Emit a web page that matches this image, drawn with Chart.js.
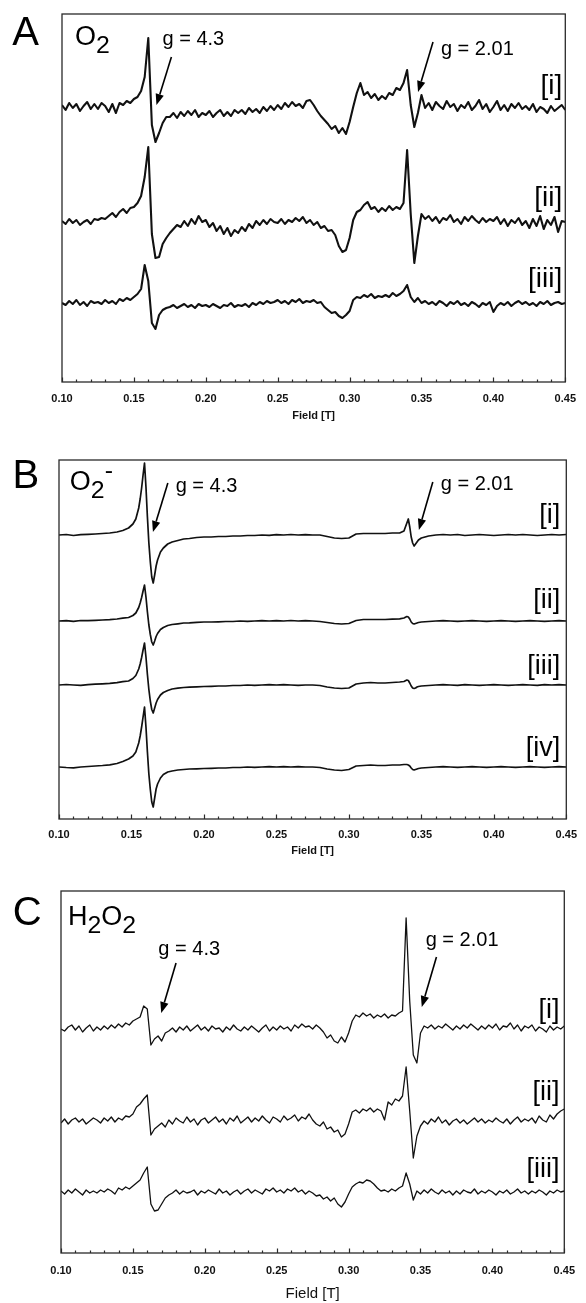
<!DOCTYPE html>
<html>
<head>
<meta charset="utf-8">
<script src="https://cdn.jsdelivr.net/npm/chart.js@4"></script>
<style>
  html, body { margin: 0; padding: 0; background: #fff; }
  body { width: 586px; height: 1303px; position: relative; overflow: hidden; }
  canvas { position: absolute; left: 0; }
</style>
</head>
<body>
<canvas id="panelA" width="586" height="430" style="top:0px"></canvas>
<canvas id="panelB" width="586" height="435" style="top:430px"></canvas>
<canvas id="panelC" width="586" height="438" style="top:865px"></canvas>
<script>
// field positions (T) for panels A and C
const fieldAC = [
  0.1000,0.1025,0.1050,0.1075,0.1100,0.1125,0.1150,0.1175,0.1200,0.1225,
  0.1250,0.1275,0.1300,0.1325,0.1350,0.1375,0.1400,0.1425,0.1450,0.1475,
  0.1500,0.1525,0.1550,0.1575,0.1600,0.1625,0.1650,0.1675,0.1700,0.1725,
  0.1750,0.1775,0.1800,0.1825,0.1850,0.1875,0.1900,0.1925,0.1950,0.1975,
  0.2000,0.2025,0.2050,0.2075,0.2100,0.2125,0.2150,0.2175,0.2200,0.2225,
  0.2250,0.2275,0.2300,0.2325,0.2350,0.2375,0.2400,0.2425,0.2450,0.2475,
  0.2500,0.2525,0.2550,0.2575,0.2600,0.2625,0.2650,0.2675,0.2700,0.2725,
  0.2750,0.2775,0.2800,0.2825,0.2850,0.2875,0.2900,0.2925,0.2950,0.2975,
  0.3000,0.3025,0.3050,0.3075,0.3100,0.3125,0.3150,0.3175,0.3200,0.3225,
  0.3250,0.3275,0.3300,0.3325,0.3350,0.3375,0.3400,0.3425,0.3450,0.3475,
  0.3500,0.3525,0.3550,0.3575,0.3600,0.3625,0.3650,0.3675,0.3700,0.3725,
  0.3750,0.3775,0.3800,0.3825,0.3850,0.3875,0.3900,0.3925,0.3950,0.3975,
  0.4000,0.4025,0.4050,0.4075,0.4100,0.4125,0.4150,0.4175,0.4200,0.4225,
  0.4250,0.4275,0.4300,0.4325,0.4350,0.4375,0.4400,0.4425,0.4450,0.4475,
  0.4500
];

// panel B is sampled more densely round the sharp lines
const fieldB = [
  0.100,0.105,0.110,0.115,0.120,0.125,0.130,0.135,0.140,0.144,
  0.148,0.151,0.153,0.155,0.156,0.157,0.158,0.159,0.160,0.161,
  0.162,0.163,0.164,0.165,0.166,0.167,0.168,0.170,0.172,0.175,
  0.178,0.182,0.186,0.190,0.195,0.200,0.205,0.210,0.215,0.220,
  0.225,0.230,0.235,0.240,0.245,0.250,0.255,0.260,0.265,0.270,
  0.275,0.280,0.285,0.290,0.295,0.300,0.305,0.310,0.315,0.320,
  0.325,0.330,0.335,0.338,0.340,0.341,0.342,0.343,0.344,0.345,
  0.346,0.347,0.348,0.350,0.355,0.360,0.365,0.370,0.375,0.380,
  0.385,0.390,0.395,0.400,0.405,0.410,0.415,0.420,0.425,0.430,
  0.435,0.440,0.445,0.450
];

const xTicks = [0.10, 0.15, 0.20, 0.25, 0.30, 0.35, 0.40, 0.45];

// A: O2 spectra (signal, arbitrary units, relative to each baseline)
const o2_i = [
   2,-3, 4,-1, 3,-4, 1, 5,-2, 3,
  -2, 4, 1,-5, 3,-6, 4, 2, 6, 4,
   8,10,16,30,69,-18,-35,-26,-16,-10,
 -10,-6,-11,-5,-9,-4,-8,-3,-10,-6,
  -8,-4,-10,-6,-3,-9,-5,-9,-3,-6,
  -3,-7,-1,-5,-2,-6, 0,-4, 1,-3,
   2,-2, 4, 0, 5, 1, 3,-1, 6, 7,
   2,-4,-9,-13,-17,-22,-19,-26,-21,-27,
 -15, 0,14,24,12,15, 9,13, 7,11,
   8,14,12,19,17,24,37, 2,-20,-6,
  12,-1, 4,-3, 5, 1,-2, 6, 0, 3,
  -4, 2,-1, 5,-3, 1, 7,-2, 3,-5,
   0, 6,-3, 2,-4, 3,-1, 4,-2, 1,
  -3, 3,-5, 0,-2,-6, 1,-4,-1, 2,
  -3
];
const o2_ii = [
   1,-2, 3,-1, 2,-3, 0, 2,-2, 3,
   2, 4, 3, 6, 9, 5,10,13, 9,14,
  15,19,26,45,75,-12,-36,-35,-22,-16,
 -11,-7,-3,-5, 1,-4, 3,-2, 6, 0,
   2,-5,-1,-9,-4,-12,-6,-14,-8,-11,
  -5,-9,-2,-6, 1,-3, 2,-2, 3, 0,
  -1, 3,-2, 2, 0, 4, 1, 5,-1, 2,
  -3, 0,-6,-4,-9,-8,-13,-24,-30,-28,
 -16, 2,10,12,17,20,13,15,10,14,
  11,16,12,15,13,19,72, 8,-41,-14,
   8, 3, 6, 1, 5,-1, 4, 2, 7, 0,
   3,-2, 5, 1, 6, 2,-1, 4, 0, 3,
   1, 5,-2, 3,-4, 2,-1, 4,-3, 1,
  -6, 3,-4, 6,-7, 2,-3, 5,-10, 1,
   0
];
const o2_iii = [
   0,-2, 2,-1, 3,-2, 1,-3, 2, 0,
   1,-1, 3, 0, 2,-1, 4, 2, 5, 3,
   6, 9,14,38,22,-20,-26,-12,-7,-5,
  -4,-2,-5,-3,-1,-4,-2,-5,-1,-3,
  -2,-4,-1,-3,-5,-2,-3, 0,-4,-2,
  -3,-1,-4, 0,-2, 1,-1, 2, 0, 1,
   3, 0, 2,-1, 3, 1, 4, 0, 2, 1,
   3, 0, 1,-4,-7,-10,-9,-13,-15,-12,
  -8, 3, 6, 5, 8, 6, 9, 5, 7, 6,
   8, 6,10, 7, 9,12,18, 6, 1, 5,
   0, 2,-1, 1,-2, 2, 0,-3, 1,-1,
   2,-2, 0,-3, 1,-1,-4, 0,-2, 1,
  -9,-3, 0,-2, 1,-3, 0, 2,-1, 1,
  -2, 0,-3, 1,-1, 2,-2, 0, 1,-1,
   0
];

// B: O2- spectra
const sup_i = [
   0, 0.5,-0.5, 0.3, 0.6, 1, 1.5, 2, 3, 4.5,
   7, 11, 16, 27, 36, 47, 60, 72, 48, 18,
  -8,-27,-42,-48,-40,-31,-25,-17,-13,-9,
  -7,-5.5,-4,-3.5,-2.5,-2,-2,-1.5,-1.5,-1,
  -1,-0.5,-0.5, 0,-0.3, 0.3, 0, 0.5, 0, 0.3,
   0, 0,-1.5,-3,-3.5,-3, 1, 1.5, 1.5, 1.5,
   1.5, 2, 2, 4, 12, 16, 8,-2,-8,-11,
  -9,-7,-5,-3,-1, 0, 0.5, 0, 0.5,-0.5,
   0, 0.5, 0,-0.5, 0, 0.5, 0, 0.5, 0,-0.5,
   0, 0.5, 0, 0.5
];
const sup_ii = [
   0, 0.4,-0.3, 0.5, 0.3, 0.7, 1, 1.3, 2, 2.8,
   3.5, 5.5, 8, 13.5, 18, 23.5, 30, 36, 24, 9,
  -4,-13.5,-21,-24,-20,-15.5,-12.5,-8.5,-6.5,-4.5,
  -3.5,-2.8,-2,-1.8,-1.3,-1,-1,-0.8,-0.5,-0.5,
   0,-0.3, 0, 0.3, 0, 0.3, 0, 0.5, 0, 0.3,
   0,-0.5,-1.5,-2.5,-3,-2.5, 0.5, 1.5, 1.5, 1.5,
   1.5, 1.8, 2.2, 3, 4.5, 4, 2,-1,-2.5,-3,
  -2.5,-2,-1.5,-1,-0.5, 0, 0.3, 0,-0.3, 0,
   0.4, 0,-0.3, 0, 0.3, 0,-0.4, 0, 0.3, 0,
  -0.3, 0, 0.3, 0
];
const sup_iii = [
   0, 0.5, 0,-0.4, 0.4, 0.8, 1.2, 1.6, 2.4, 3.3,
   4, 6.5, 9.5, 16, 21, 27.5, 35, 42, 28, 10.5,
  -4.5,-16,-24.5,-28,-23,-18,-14.5,-10,-7.5,-5.5,
  -4,-3.2,-2.5,-2.2,-1.8,-1.5,-1.3,-1,-1,-0.5,
  -0.5, 0,-0.3, 0, 0.3, 0, 0.3, 0,-0.3, 0,
   0,-0.5,-2,-3,-3.5,-3, 1, 2, 2.5, 2,
   2, 2.5, 3, 3.5, 5, 4.5, 2,-1,-3,-3.5,
  -3,-2,-1.5,-1,-0.5, 0, 0.3, 0,-0.3, 0.3,
   0,-0.3, 0, 0.4, 0,-0.3, 0, 0.3, 0,-0.3,
   0.3, 0, 0.3, 0
];
const sup_iv = [
   0,-0.5,-0.8, 0, 0.5, 1, 1.5, 2.2, 3.5, 5.5,
   8, 11, 15, 24, 31, 40, 50, 60, 40, 15,
  -7,-22.5,-35,-40,-31,-22,-17,-11,-7.5,-5,
  -4,-3,-2.5,-2,-1.8,-1.5,-1.3,-1,-1,-0.5,
  -0.5, 0,-0.3, 0, 0.3, 0, 0.3, 0, 0.3, 0,
   0,-0.5,-2,-3,-3.5,-2.5, 1, 1.5, 2, 1.5,
   1.5, 2, 2, 2.5, 2.5, 2, 1,-1,-2.5,-3,
  -2.5,-2,-1.5,-1,-0.5, 0, 0.3, 0,-0.3, 0,
   0.3, 0,-0.3, 0, 0.3, 0,-0.3, 0, 0.3, 0,
  -0.3, 0, 0.3, 0
];

// C: H2O2 spectra
const h2o2_i = [
   0,-2, 2, 4,-1, 3,-3, 1, 4,-2,
   2,-1, 3, 0, 4, 1, 5, 2, 6, 4,
   8,10,12,23,20,-16,-10,-7,-12,-4,
  -2, 1,-3, 2,-1, 3,-2, 1, 4,-1,
   2,-2, 3, 0, 1,-3, 2,-1, 4, 0,
  -2, 2,-1, 3, 0,-3, 1, 4,-2, 2,
  -1, 3, 0, 2,-2, 4, 1, 5, 2, 3,
   0, 4, 1,-3,-9,-6,-12,-14,-8,-13,
  -4, 8,14,12,16,13,15,11,14,12,
  15,11,14,13,16,18,111,28,-26,-34,
  -4, 3, 1, 4, 0, 3, 1, 5, 2,-1,
   3, 0, 4, 1, 5, 2,-1, 3, 0, 4,
   1, 5,-1, 3, 2, 6, 0, 4,-2, 3,
   1, 4,-2, 2, 0,-3, 3,-1, 2, 0,
   3
];
const h2o2_ii = [
  -2, 2,-3, 1, 3,-1, 2,-3, 0, 3,
   1,-2, 3, 0, 4,-1, 3, 1, 5, 4,
   7,14,17,22,26,-14,-8,-5,-2,-6,
   1,-3, 3, 0,-2, 4,-1, 2,-4, 1,
   3,-2, 1, 4,-1, 2,-3, 3, 0, 5,
  -2, 1, 4,-1, 3, 0, 5, 1,-2, 4,
   2,-1, 5, 1, 3, 6, 0, 4, 2, 7,
   1,-3,-5,-1,-8,-6,-11,-9,-16,-13,
  -3, 9,11, 8,12,10,13, 9,12,10,
   1,19,16,22,20,25,54,10,-37,-15,
  -5, 0,-3, 2,-1, 4,-2, 1,-4, 0,
   2,-2, 1,-3, 0, 3,-1, 2,-2, 1,
  -1, 3, 0,-2, 2,-3, 1, 4,-1, 2,
   0, 3,-2, 5, 1,-1, 6, 2, 7,10,
  12
];
const h2o2_iii = [
   1,-2, 2,-1, 3, 0,-3, 2,-1, 1,
  -1, 2, 0, 3, 1,-2, 4, 2, 5, 3,
   6, 9,12,19,25,-12,-19,-18,-12,-6,
  -3,-1, 2,-2, 1,-1, 0, 2,-3, 1,
  -1, 2, 0,-2, 3,-1, 1,-3, 0, 2,
  -2, 1, 3,-1, 2, 0,-2, 3, 1, 4,
   0, 2,-1, 3, 1, 4, 0, 2,-2, 1,
  -1,-4,-3,-7,-5,-9,-6,-12,-15,-10,
  -2, 5, 8,10, 9,12,11, 8, 4, 1,
   2, 0, 3, 1, 4, 6,19, 8,-8, 1,
  -2, 2,-1, 3, 0,-2, 2,-1, 1,-3,
   1,-2, 2, 0,-1, 3,-2, 1,-1, 2,
   0,-3, 1,-1, 2,-2, 0, 3,-1, 1,
  -2, 1,-1, 2, 0,-3, 1,-1, 2, 0,
   1
];

// vertical stacking of the traces in each panel
const offsetsA = [275, 160, 79];
const offsetsB = [284, 198, 134, 52];
const offsetsC = [224, 132, 61];
const traceLabels = ['[i]', '[ii]', '[iii]', '[iv]'];

const fontFamily = 'Arial, "Liberation Sans", Helvetica, sans-serif';

// box round the plot plus the inward minor / major ticks
const framePlugin = {
  id: 'frame',
  afterDatasetsDraw(chart) {
    const { ctx, chartArea: a, scales: { x } } = chart;
    ctx.save();
    ctx.strokeStyle = '#2a2a2a';
    ctx.lineWidth = 1.3;
    ctx.strokeRect(a.left, a.top, a.right - a.left, a.bottom - a.top);
    ctx.lineWidth = 1.2;
    ctx.beginPath();
    for (let k = 10; k <= 45; k++) {
      const px = Math.round(x.getPixelForValue(k / 100)) + 0.5;
      const len = k % 5 === 0 ? 4.5 : 2.5;
      ctx.moveTo(px, a.bottom);
      ctx.lineTo(px, a.bottom - len);
    }
    ctx.stroke();
    ctx.restore();
  }
};

// labels and arrows, placed in data coordinates
function notesPlugin(notes) {
  return {
    id: 'notes',
    afterDraw(chart) {
      const { ctx, scales: { x, y } } = chart;
      ctx.save();
      ctx.fillStyle = '#000';
      ctx.strokeStyle = '#000';
      ctx.textBaseline = 'alphabetic';
      notes.texts.forEach(t => {
        let px = x.getPixelForValue(t.at[0]);
        const py = y.getPixelForValue(t.at[1]);
        const parts = t.runs.map(([s, kind]) => {
          const size = kind ? t.size * 0.92 : t.size;
          ctx.font = `${size}px ${fontFamily}`;
          return { s, kind, size, w: ctx.measureText(s).width };
        });
        if (t.align === 'right') px -= parts.reduce((sum, p) => sum + p.w, 0);
        parts.forEach(p => {
          ctx.font = `${p.size}px ${fontFamily}`;
          const dy = p.kind === 'sub' ? t.size * 0.3 : p.kind === 'sup' ? -t.size * 0.44 : 0;
          ctx.fillText(p.s, px, py + dy);
          px += p.w;
        });
      });
      notes.arrows.forEach(([f0, v0, f1, v1]) => {
        const x0 = x.getPixelForValue(f0), y0 = y.getPixelForValue(v0);
        const x1 = x.getPixelForValue(f1), y1 = y.getPixelForValue(v1);
        const ang = Math.atan2(y1 - y0, x1 - x0);
        const head = 11, half = 4.2;
        const bx = x1 - head * Math.cos(ang), by = y1 - head * Math.sin(ang);
        ctx.lineWidth = 1.6;
        ctx.beginPath();
        ctx.moveTo(x0, y0);
        ctx.lineTo(bx, by);
        ctx.stroke();
        ctx.beginPath();
        ctx.moveTo(x1, y1);
        ctx.lineTo(bx + half * Math.sin(ang), by - half * Math.cos(ang));
        ctx.lineTo(bx - half * Math.sin(ang), by + half * Math.cos(ang));
        ctx.closePath();
        ctx.fill();
      });
      ctx.restore();
    }
  };
}

function buildPanel(id, field, series, offsets, yMax, pad, axisHeight, lineWidth, tickPad, titleFont, titlePad, notes) {
  new Chart(document.getElementById(id), {
    type: 'line',
    data: {
      datasets: series.map((values, k) => ({
        label: traceLabels[k],
        data: field.map((f, i) => ({ x: f, y: offsets[k] + values[i] })),
        borderColor: '#111',
        borderWidth: lineWidth,
        borderJoinStyle: 'round',
        pointRadius: 0,
        tension: 0,
        fill: false
      }))
    },
    options: {
      responsive: false,
      animation: false,
      events: [],
      layout: { padding: pad },
      plugins: { legend: { display: false }, tooltip: { enabled: false } },
      scales: {
        x: {
          type: 'linear',
          min: xTicks[0],
          max: xTicks[xTicks.length - 1],
          afterFit: s => { s.height = axisHeight; },
          afterBuildTicks: s => { s.ticks = xTicks.map(v => ({ value: v })); },
          grid: { display: false, drawTicks: false },
          border: { display: false },
          ticks: {
            padding: tickPad,
            color: '#111',
            maxRotation: 0,
            autoSkip: false,
            font: { family: fontFamily, size: 11, weight: 'bold' },
            callback: v => v.toFixed(2)
          },
          title: {
            display: true,
            text: 'Field [T]',
            color: '#111',
            font: titleFont,
            padding: { top: 0, bottom: titlePad }
          }
        },
        y: { display: false, min: 0, max: yMax }
      }
    },
    plugins: [framePlugin, notesPlugin(notes)]
  });
}

buildPanel('panelA', fieldAC, [o2_i, o2_ii, o2_iii], offsetsA, 368,
  { left: 62, right: 18, top: 14, bottom: 0 }, 48, 2.1, 10,
  { family: fontFamily, size: 11, weight: 'bold' }, 7,
  {
    texts: [
      { runs: [['A']], at: [0.0654, 337], size: 40 },
      { runs: [['O'], ['2', 'sub']], at: [0.1090, 337], size: 27 },
      { runs: [['g = 4.3']], at: [0.1699, 337], size: 20 },
      { runs: [['g = 2.01']], at: [0.3635, 327], size: 20 },
      { runs: [['[i]']], at: [0.4479, 288], size: 28, align: 'right' },
      { runs: [['[ii]']], at: [0.4479, 176], size: 28, align: 'right' },
      { runs: [['[iii]']], at: [0.4479, 95], size: 28, align: 'right' }
    ],
    arrows: [[0.1761, 325, 0.1657, 277], [0.3580, 340, 0.3476, 290]]
  });

buildPanel('panelB', fieldB, [sup_i, sup_ii, sup_iii, sup_iv], offsetsB, 359,
  { left: 59, right: 14, top: 30, bottom: 0 }, 46, 1.7, 9,
  { family: fontFamily, size: 11, weight: 'bold' }, 7,
  {
    texts: [
      { runs: [['B']], at: [0.0679, 331], size: 40 },
      { runs: [['O'], ['2', 'sub'], ['-', 'sup']], at: [0.1075, 329], size: 27 },
      { runs: [['g = 4.3']], at: [0.1805, 327], size: 20 },
      { runs: [['g = 2.01']], at: [0.3634, 329], size: 20 },
      { runs: [['[i]']], at: [0.4459, 296], size: 27, align: 'right' },
      { runs: [['[ii]']], at: [0.4459, 211], size: 27, align: 'right' },
      { runs: [['[iii]']], at: [0.4459, 145], size: 27, align: 'right' },
      { runs: [['[iv]']], at: [0.4459, 63], size: 27, align: 'right' }
    ],
    arrows: [[0.1751, 336, 0.1648, 287], [0.3579, 337, 0.3483, 289]]
  });

buildPanel('panelC', fieldAC, [h2o2_i, h2o2_ii, h2o2_iii], offsetsC, 362,
  { left: 61, right: 13, top: 26, bottom: 0 }, 50, 1.3, 11,
  { family: fontFamily, size: 15, weight: 'normal' }, 0,
  {
    texts: [
      { runs: [['C']], at: [0.0665, 328], size: 40 },
      { runs: [['H'], ['2', 'sub'], ['O'], ['2', 'sub']], at: [0.1048, 328], size: 27 },
      { runs: [['g = 4.3']], at: [0.1677, 298], size: 20 },
      { runs: [['g = 2.01']], at: [0.3536, 307], size: 20 },
      { runs: [['[i]']], at: [0.4466, 235], size: 27, align: 'right' },
      { runs: [['[ii]']], at: [0.4466, 153], size: 27, align: 'right' },
      { runs: [['[iii]']], at: [0.4466, 76], size: 27, align: 'right' }
    ],
    arrows: [[0.1800, 290, 0.1697, 240], [0.3611, 296, 0.3509, 246]]
  });
</script>
</body>
</html>
